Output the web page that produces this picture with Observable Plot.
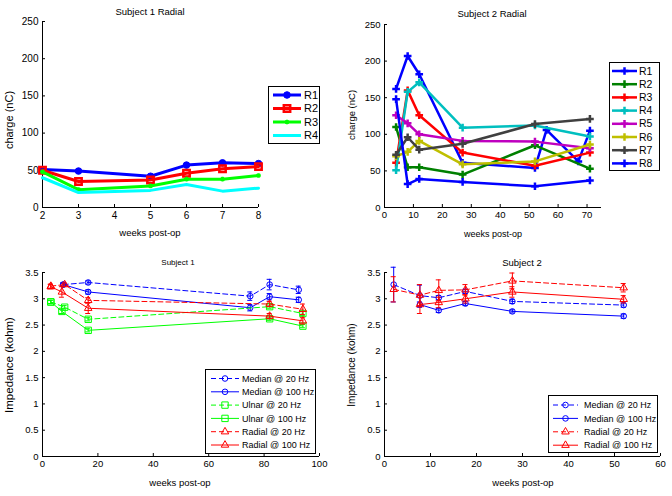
<!DOCTYPE html>
<html><head><meta charset="utf-8">
<script src="https://cdn.jsdelivr.net/npm/d3@7"></script>
<script src="https://cdn.jsdelivr.net/npm/@observablehq/plot@0.6"></script>
<style>
body{margin:0;background:#fff;}
#wrap{position:relative;width:672px;height:496px;overflow:hidden;background:#fff;font-family:"Liberation Sans",Arial,sans-serif;color:#000;}
.panel{position:absolute;}
.lbl{position:absolute;white-space:nowrap;line-height:1;}
.legend{position:absolute;}
</style></head><body><div id="wrap"></div>
<script>
// ---------- DATA ----------
// Subject 1 Radial (charge, nC)
const s1Weeks = [2, 3, 5, 6, 7, 8];
const s1R1 = [51, 49, 42, 57, 60, 59];
const s1R2 = [50, 35, 37, 46, 52, 55];
const s1R3 = [48, 24, 29, 38, 38, 43];
const s1R4 = [40, 20, 23, 31, 22, 26];
const s1Labels = ["R1", "R2", "R3", "R4"];

// Subject 2 Radial (charge, nC)
const s2R1Weeks = [4, 8, 12, 27, 52, 56, 67, 71];
const s2R1 = [162, 207, 182, 61, 54, 106, 63, 105];
const s2Weeks = [4, 8, 12, 27, 52, 71];
const s2R2 = [110, 55, 55, 45, 85, 53];
const s2R3 = [61, 160, 126, 75, 57, 75];
const s2R4 = [51, 158, 171, 109, 112, 97];
const s2R5 = [126, 115, 100, 91, 90, 81];
const s2R6 = [70, 76, 91, 59, 63, 86];
const s2R7 = [72, 96, 79, 87, 114, 121];
const s2R8 = [148, 32, 39, 35, 29, 37];
const s2Labels = ["R1", "R2", "R3", "R4", "R5", "R6", "R7", "R8"];

// Subject 1 impedance (kohm)
const i1MedWeeks = [7.5, 16.5, 75, 82, 92.5];
const i1Med20 = [3.27, 3.31, 3.05, 3.27, 3.17];
const i1Med20Err = [0.03, 0.03, 0.08, 0.1, 0.07];
const i1Med100 = [3.27, 3.13, 2.83, 3.04, 2.98];
const i1Med100Err = [0.03, 0.04, 0.06, 0.06, 0.05];
const i1Uln20Weeks = [3, 8, 16.5, 82, 94];
const i1Uln20 = [2.94, 2.84, 2.61, 2.85, 2.72];
const i1Uln20Err = [0.03, 0.03, 0.03, 0.03, 0.04];
const i1Uln100Weeks = [3, 7, 16.5, 82, 94];
const i1Uln100 = [2.94, 2.76, 2.40, 2.62, 2.48];
const i1Uln100Err = [0.03, 0.04, 0.03, 0.03, 0.03];
const i1Rad20Weeks = [3, 8, 16.5, 82, 94];
const i1Rad20 = [3.24, 3.27, 2.97, 2.90, 2.80];
const i1Rad20Err = [0.04, 0.03, 0.05, 0.05, 0.1];
const i1Rad100Weeks = [3, 7, 16.5, 82, 94];
const i1Rad100 = [3.23, 3.13, 2.82, 2.67, 2.58];
const i1Rad100Err = [0.04, 0.1, 0.1, 0.05, 0.06];
const i1Labels = ["Median @ 20 Hz", "Median @ 100 Hz", "Ulnar @ 20 Hz", "Ulnar @ 100 Hz", "Radial @ 20 Hz", "Radial @ 100 Hz"];

// Subject 2 impedance (kohm)
const i2Weeks20 = [2, 7.7, 11.8, 17.6, 27.8, 52];
const i2Weeks100 = [7.7, 11.8, 17.6, 27.8, 52];
const i2Med20 = [3.27, 3.06, 3.02, 3.14, 2.95, 2.88];
const i2Med20Err = [0.33, 0.2, 0.04, 0.04, 0.04, 0.04];
const i2Med100 = [2.89, 2.78, 2.91, 2.76, 2.67];
const i2Med100Err = [0.05, 0.04, 0.04, 0.03, 0.04];
const i2Rad20 = [3.18, 3.07, 3.16, 3.17, 3.34, 3.21];
const i2Rad20Err = [0.24, 0.2, 0.2, 0.1, 0.15, 0.08];
const i2Rad100 = [2.89, 2.93, 3.0, 3.13, 2.99];
const i2Rad100Err = [0.17, 0.1, 0.08, 0.1, 0.07];
const i2Labels = ["Median @ 20 Hz", "Median @ 100 Hz", "Radial @ 20 Hz", "Radial @ 100 Hz"];

// ---------- STYLES ----------
const FONT = "'Liberation Sans', Arial, sans-serif";
const wrap = document.getElementById("wrap");

function table(xs, ys, es) {
  return xs.map((x, i) => ({x, y: ys[i], e: es ? es[i] : 0}));
}

function panel(o) {
  const marks = [
    Plot.ruleY([o.yDomain[0]], {stroke: "#000", strokeWidth: 1}),
    Plot.ruleX([o.xDomain[0]], {stroke: "#000", strokeWidth: 1}),
    Plot.axisX({ticks: o.xTicks, tickSize: -3, tickPadding: 7, label: null, tickFormat: d => String(d)}),
    Plot.axisY({ticks: o.yTicks, tickSize: -3, tickPadding: 7, label: null, tickFormat: d => String(d)})
  ];
  for (const s of o.series) {
    const data = table(s.x, s.y, s.e);
    if (s.e) {
      marks.push(Plot.ruleX(data, {x: "x", y1: d => d.y - d.e, y2: d => d.y + d.e, stroke: s.color, strokeWidth: 1}));
      marks.push(Plot.ruleY(data, {y: d => d.y - d.e, x1: d => d.x - o.cap, x2: d => d.x + o.cap, stroke: s.color, strokeWidth: 1}));
      marks.push(Plot.ruleY(data, {y: d => d.y + d.e, x1: d => d.x - o.cap, x2: d => d.x + o.cap, stroke: s.color, strokeWidth: 1}));
    }
    marks.push(Plot.line(data, {x: "x", y: "y", stroke: s.color, strokeWidth: s.sw, strokeDasharray: s.dash || null, curve: "linear"}));
    if (s.symbol) {
      marks.push(Plot.dot(data, {x: "x", y: "y", symbol: s.symbol, r: s.r, stroke: s.color, fill: s.fill || "none", strokeWidth: s.msw || s.sw}));
    }
  }
  const svg = Plot.plot({
    width: o.width, height: o.height,
    marginLeft: o.ml, marginRight: o.mr, marginTop: o.mt, marginBottom: o.mb,
    x: {domain: o.xDomain, nice: false},
    y: {domain: o.yDomain, nice: false},
    style: {fontFamily: FONT, fontSize: o.fontSize + "px", color: "#000", background: "transparent", overflow: "visible"},
    marks
  });
  const div = document.createElement("div");
  div.className = "panel";
  div.style.left = o.left + "px";
  div.style.top = o.top + "px";
  div.appendChild(svg);
  wrap.appendChild(div);
}

function text(str, x, y, size, rotate) {
  const d = document.createElement("div");
  d.className = "lbl";
  d.textContent = str;
  d.style.fontSize = size + "px";
  d.style.left = x + "px";
  d.style.top = y + "px";
  d.style.transform = "translate(-50%,-50%)" + (rotate ? " rotate(-90deg)" : "");
  wrap.appendChild(d);
}

const symbolMap = {circle: d3.symbolCircle, square: d3.symbolSquare, triangle: d3.symbolTriangle, plus: d3.symbolPlus, asterisk: d3.symbolAsterisk};

function legend(o) {
  const ns = "http://www.w3.org/2000/svg";
  const div = document.createElement("div");
  div.className = "legend";
  div.style.left = o.left + "px";
  div.style.top = o.top + "px";
  const svg = document.createElementNS(ns, "svg");
  svg.setAttribute("width", o.w);
  svg.setAttribute("height", o.h);
  svg.style.display = "block";
  const box = document.createElementNS(ns, "rect");
  box.setAttribute("x", 0.5); box.setAttribute("y", 0.5);
  box.setAttribute("width", o.w - 1); box.setAttribute("height", o.h - 1);
  box.setAttribute("fill", "#fff"); box.setAttribute("stroke", "#000");
  svg.appendChild(box);
  o.items.forEach((s, i) => {
    const y = o.y0 + i * o.dy;
    const ln = document.createElementNS(ns, "line");
    ln.setAttribute("x1", o.lx1); ln.setAttribute("x2", o.lx2);
    ln.setAttribute("y1", y); ln.setAttribute("y2", y);
    ln.setAttribute("stroke", s.color); ln.setAttribute("stroke-width", s.sw);
    if (s.dash) ln.setAttribute("stroke-dasharray", s.dash);
    svg.appendChild(ln);
    if (s.symbol) {
      const p = document.createElementNS(ns, "path");
      p.setAttribute("d", d3.symbol(symbolMap[s.symbol], Math.PI * s.r * s.r)());
      p.setAttribute("transform", `translate(${(o.lx1 + o.lx2) / 2},${y})`);
      p.setAttribute("stroke", s.color);
      p.setAttribute("fill", s.fill || "none");
      p.setAttribute("stroke-width", s.msw || s.sw);
      svg.appendChild(p);
    }
    const t = document.createElementNS(ns, "text");
    t.setAttribute("x", o.tx); t.setAttribute("y", y);
    t.setAttribute("dy", "0.35em");
    t.setAttribute("font-size", o.fontSize);
    t.setAttribute("font-family", FONT);
    t.textContent = o.labels[i];
    svg.appendChild(t);
  });
  div.appendChild(svg);
  wrap.appendChild(div);
}

// ---------- PANEL 1 ----------
const p1Series = [
  {x: s1Weeks, y: s1R1, color: "#0000ff", sw: 3, symbol: "circle", r: 3.3, fill: "#0000ff", msw: 1},
  {x: s1Weeks, y: s1R2, color: "#ff0000", sw: 3, symbol: "square", r: 3.6, msw: 2.5},
  {x: s1Weeks, y: s1R3, color: "#00ff00", sw: 3, symbol: "asterisk", r: 2.2, msw: 2},
  {x: s1Weeks, y: s1R4, color: "#00ffff", sw: 3}
];
panel({left: 0, top: 0, width: 336, height: 240, ml: 42, mr: 78, mt: 21, mb: 33,
  xDomain: [2, 8], yDomain: [0, 250], xTicks: [2, 3, 4, 5, 6, 7, 8], yTicks: [0, 50, 100, 150, 200, 250],
  fontSize: 10, series: p1Series});
legend({left: 268, top: 86, w: 52, h: 58, y0: 9, dy: 13.5, lx1: 5, lx2: 33, tx: 36, fontSize: 11,
  items: p1Series, labels: s1Labels});
text("Subject 1 Radial", 150, 12, 9.5);
text("charge (nC)", 9, 120, 11, true);
text("weeks post-op", 150, 233, 9.5);

// ---------- PANEL 2 ----------
const cols2 = ["#0000ff", "#008000", "#ff0000", "#00bfbf", "#bf00bf", "#bfbf00", "#404040", "#0000ff"];
const p2Vals = [s2R1, s2R2, s2R3, s2R4, s2R5, s2R6, s2R7, s2R8];
const p2Series = p2Vals.map((v, i) => ({x: i === 0 ? s2R1Weeks : s2Weeks, y: v, color: cols2[i], sw: 2.5, symbol: "plus", r: 2.6, msw: 2.5}));
panel({left: 336, top: 0, width: 336, height: 240, ml: 48, mr: 71, mt: 24, mb: 33,
  xDomain: [0, 75], yDomain: [0, 250], xTicks: [0, 10, 20, 30, 40, 50, 60, 70], yTicks: [0, 50, 100, 150, 200, 250],
  fontSize: 9.5, series: p2Series});
legend({left: 609, top: 62, w: 51, h: 109, y0: 9, dy: 13.2, lx1: 3, lx2: 28, tx: 30, fontSize: 10.5,
  items: p2Series, labels: s2Labels});
text("Subject 2 Radial", 492, 14, 9.5);
text("charge (nC)", 352, 115, 9.5, true);
text("weeks post-op", 493, 234, 9);

// ---------- PANEL 3 ----------
const p3Series = [
  {x: i1MedWeeks, y: i1Med20, e: i1Med20Err, color: "#0000ff", sw: 1, dash: "5,3", symbol: "circle", r: 2.8},
  {x: i1MedWeeks, y: i1Med100, e: i1Med100Err, color: "#0000ff", sw: 1, symbol: "circle", r: 2.8},
  {x: i1Uln20Weeks, y: i1Uln20, e: i1Uln20Err, color: "#00ff00", sw: 1, dash: "5,3", symbol: "square", r: 3.6},
  {x: i1Uln100Weeks, y: i1Uln100, e: i1Uln100Err, color: "#00ff00", sw: 1, symbol: "square", r: 3.6},
  {x: i1Rad20Weeks, y: i1Rad20, e: i1Rad20Err, color: "#ff0000", sw: 1, dash: "5,3", symbol: "triangle", r: 2.8},
  {x: i1Rad100Weeks, y: i1Rad100, e: i1Rad100Err, color: "#ff0000", sw: 1, symbol: "triangle", r: 2.8}
];
panel({left: 0, top: 240, width: 336, height: 256, ml: 42, mr: 17, mt: 32, mb: 40,
  xDomain: [0, 100], yDomain: [0, 3.5], xTicks: [0, 20, 40, 60, 80, 100], yTicks: [0, 0.5, 1, 1.5, 2, 2.5, 3, 3.5],
  fontSize: 9.5, cap: 0.9, series: p3Series});
legend({left: 205, top: 369, w: 111, h: 85, y0: 9.5, dy: 13.3, lx1: 6, lx2: 34, tx: 37, fontSize: 9,
  items: p3Series, labels: i1Labels});
text("Subject 1", 178, 263, 8);
text("Impedance (kohm)", 10, 365, 11.5, true);
text("weeks post-op", 180, 483, 9.5);

// ---------- PANEL 4 ----------
const p4Series = [
  {x: i2Weeks20, y: i2Med20, e: i2Med20Err, color: "#0000ff", sw: 1, dash: "5,3", symbol: "circle", r: 2.8},
  {x: i2Weeks100, y: i2Med100, e: i2Med100Err, color: "#0000ff", sw: 1, symbol: "circle", r: 2.8},
  {x: i2Weeks20, y: i2Rad20, e: i2Rad20Err, color: "#ff0000", sw: 1, dash: "5,3", symbol: "triangle", r: 2.8},
  {x: i2Weeks100, y: i2Rad100, e: i2Rad100Err, color: "#ff0000", sw: 1, symbol: "triangle", r: 2.8}
];
panel({left: 336, top: 240, width: 336, height: 256, ml: 48, mr: 12, mt: 32, mb: 40,
  xDomain: [0, 60], yDomain: [0, 3.5], xTicks: [0, 10, 20, 30, 40, 50, 60], yTicks: [0, 0.5, 1, 1.5, 2, 2.5, 3, 3.5],
  fontSize: 9.5, cap: 0.55, series: p4Series});
legend({left: 548, top: 395, w: 110, h: 58, y0: 10, dy: 13.4, lx1: 5, lx2: 30, tx: 36, fontSize: 9,
  items: p4Series, labels: i2Labels});
text("Subject 2", 522, 263, 9.5);
text("Impedance (kohm)", 352, 365, 10, true);
text("weeks post-op", 523, 483, 9.5);
</script></body></html>
